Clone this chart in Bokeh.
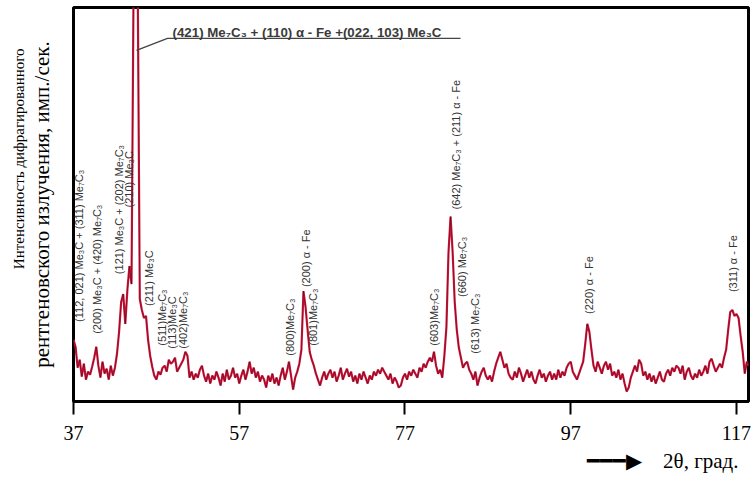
from math import pi
from bokeh.plotting import figure
from bokeh.models import Range1d, FixedTicker, Label, Title, ColumnDataSource
from bokeh.core.properties import value
from bokeh.embed import file_html
from bokeh.resources import INLINE

# ---- data: XRD pattern, 2theta from 37.0 in steps of 0.25 deg (arbitrary intensity units)
theta_start = 37.0
theta_step = 0.25
intensity = [
    62, 55, 34, 42,      # 37
    25, 38, 22, 30,      # 38
    27, 35, 44, 55,      # 39
    36, 24, 40, 28,      # 40
    33, 22, 36, 26,      # 41
    34, 48, 70, 100,     # 42
    108, 78, 112, 136,   # 43
    118, 420, 5000, 420,  # 44
    103, 92, 84, 86,     # 45
    62, 46, 35, 26,      # 46
    22, 30, 27, 34,      # 47
    36, 30, 42, 38,      # 48
    40, 44, 30, 34,      # 49
    38, 42, 50, 46,      # 50
    24, 30, 22, 28,      # 51
    24, 32, 36, 26,      # 52
    20, 28, 18, 26,      # 53
    22, 30, 24, 16,      # 54
    28, 20, 32, 22,      # 55
    26, 34, 24, 28,      # 56
    18, 26, 32, 22,      # 57
    30, 40, 28, 34,      # 58
    24, 30, 20, 26,      # 59
    22, 14, 26, 20,      # 60
    28, 18, 24, 16,      # 61
    26, 34, 22, 30,      # 62
    40, 26, 12, 24,      # 63
    30, 38, 52, 111,     # 64
    95, 72, 50, 42,      # 65
    36, 28, 22, 16,      # 66
    24, 30, 22, 28,      # 67
    32, 24, 30, 20,      # 68
    26, 34, 22, 28,      # 69
    33, 25, 30, 20,      # 70
    26, 18, 28, 22,      # 71
    30, 24, 18, 26,      # 72
    22, 30, 26, 32,      # 73
    28, 34, 30, 26,      # 74
    22, 28, 18, 24,      # 75
    20, 14, 16, 24,      # 76
    28, 22, 30, 26,      # 77
    32, 28, 24, 34,      # 78
    30, 38, 34, 40,      # 79
    44, 40, 50, 36,      # 80
    28, 32, 24, 46,      # 81
    75, 150, 186, 150,   # 82
    100, 72, 54, 44,     # 83
    34, 38, 40, 32,      # 84
    28, 22, 30, 16,      # 85
    24, 30, 34, 26,      # 86
    22, 26, 20, 30,      # 87
    38, 44, 50, 42,      # 88
    34, 38, 28, 24,      # 89
    22, 30, 24, 34,      # 90
    28, 20, 26, 32,      # 91
    24, 30, 22, 18,      # 92
    26, 32, 24, 28,      # 93
    20, 26, 30, 22,      # 94
    28, 22, 32, 24,      # 95
    30, 26, 34, 38,      # 96
    40, 30, 26, 22,      # 97
    28, 34, 40, 58,      # 98
    78, 70, 52, 36,      # 99
    30, 40, 34, 28,      # 100
    36, 40, 32, 38,      # 101
    26, 30, 24, 32,      # 102
    22, 28, 18, 10,      # 103
    14, 24, 30, 36,      # 104
    30, 42, 38, 26,      # 105
    30, 22, 28, 20,      # 106
    26, 18, 24, 30,      # 107
    22, 20, 28, 32,      # 108
    26, 34, 30, 36,      # 109
    34, 28, 36, 22,      # 110
    30, 34, 26, 22,      # 111
    28, 24, 32, 26,      # 112
    30, 36, 28, 40,      # 113
    43, 36, 30, 34,      # 114
    38, 34, 44, 52,      # 115
    72, 90, 92, 86,      # 116
    88, 84, 66, 50,      # 117
    28, 40, 36,          # 118
]
two_theta = [theta_start + theta_step * i for i in range(len(intensity))]

tick_values = [37, 57, 77, 97, 117]

# peak annotations: text, 2theta position, intensity at the start of the text
peak_labels = [
    "(112, 021) Me₃C + (311) Me₇C₃",
    "(200) Me₃C + (420) Me₇C₃",
    "(121) Me₃C + (202) Me₇C₃",
    "(210) Me₃C",
    "(211) Me₃C",
    "(511)Me₇C₃",
    "(113)Me₃C",
    "(402)Me₇C₃",
    "(800)Me₇C₃",
    "(200) α - Fe",
    "(801)Me₇C₃",
    "(603)Me₇C₃",
    "(642) Me₇C₃ + (211) α - Fe",
    "(660) Me₇C₃",
    "(613) Me₇C₃",
    "(220) α - Fe",
    "(311) α - Fe",
]
peak_label_theta = [37.64, 39.86, 42.49, 43.64, 46.17, 47.62, 48.9, 50.27,
                    63.18, 65.0, 65.84, 80.48, 83.1, 83.9, 85.39, 99.18, 116.55]
peak_label_level = [80, 68, 128, 195, 96, 56, 53, 53,
                    46, 115, 56, 56, 193, 105, 48, 88, 110]

main_label = "(421) Me₇C₃ + (110) α - Fe +(022, 103) Me₃C"
main_label_theta = 48.95
main_label_level = 371
leader_theta = [44.6, 48.34, 83.7]
leader_level = [353, 365, 365]

y_title_1 = "Интенсивность дифрагированного"
y_title_2 = "рентгеновского излучения, имп./сек."
x_title = "━━━▶\u20032θ, град."

# ---- figure
p = figure(width=752, height=476, output_backend="svg", toolbar_location=None,
           x_range=Range1d(37, 118.45), y_range=Range1d(0, 396),
           min_border_left=73, min_border_right=4, min_border_top=7, min_border_bottom=73)
p.grid.visible = False
p.outline_line_color = "black"
p.outline_line_width = 3
p.background_fill_color = "white"
p.border_fill_color = "white"

ax = p.xaxis[0]
ax.ticker = FixedTicker(ticks=tick_values)
ax.minor_tick_line_color = None
ax.major_tick_out = 13
ax.major_tick_in = 0
ax.major_tick_line_width = 2
ax.major_tick_line_color = "black"
ax.axis_line_width = 3
ax.axis_line_color = "black"
ax.major_label_text_font = "Liberation Serif"
ax.major_label_text_font_size = "20px"
ax.major_label_text_color = "black"
ax.major_label_standoff = 11

# y axis carries no scale in the original: only its (second) title line
ay = p.yaxis[0]
ay.ticker = FixedTicker(ticks=[])
ay.axis_line_color = None
ay.major_tick_line_color = None
ay.minor_tick_line_color = None
ay.major_tick_out = 0
ay.major_tick_in = 0
ay.minor_tick_out = 0
ay.major_label_standoff = 0
ay.axis_label = y_title_2
ay.axis_label_text_font = "Liberation Serif"
ay.axis_label_text_font_size = "21px"
ay.axis_label_text_font_style = "normal"
ay.axis_label_text_color = "black"
ay.axis_label_standoff = 20

src = ColumnDataSource(dict(x=two_theta, y=intensity))
p.line("x", "y", source=src, line_color="#d8183e", line_width=2.2)
p.line("x", "y", source=src, line_color="black", line_width=0.7, line_alpha=0.5)

lab_src = ColumnDataSource(dict(x=peak_label_theta, y=peak_label_level, text=peak_labels))
p.text("x", "y", text="text", source=lab_src, angle=pi / 2,
       text_align="left", text_baseline="middle",
       text_font=value("Liberation Sans"), text_font_size="11px", text_color="#333333")

p.line(leader_theta, leader_level, line_color="#444444", line_width=1.3)
p.add_layout(Label(x=main_label_theta, y=main_label_level, text=main_label,
                   text_font="Liberation Sans", text_font_style="bold",
                   text_font_size="13.3px", text_color="#3a3a3a", text_baseline="alphabetic"))

has_standoff = "standoff" in Title.properties()


def make_title(text, align, offset, standoff, size, valign):
    kw = dict(text=text, align=align, offset=offset, text_font="Liberation Serif",
              text_font_size=size, text_font_style="normal", text_color="black",
              vertical_align=valign)
    if has_standoff:
        kw["standoff"] = standoff
    return Title(**kw)


p.add_layout(make_title(y_title_1, "right", 41, 0, "15px", "bottom"), "left")
p.add_layout(make_title(x_title, "right", 10, 8, "21px", "bottom"), "below")

open("out.html", "w").write(file_html(p, INLINE))
